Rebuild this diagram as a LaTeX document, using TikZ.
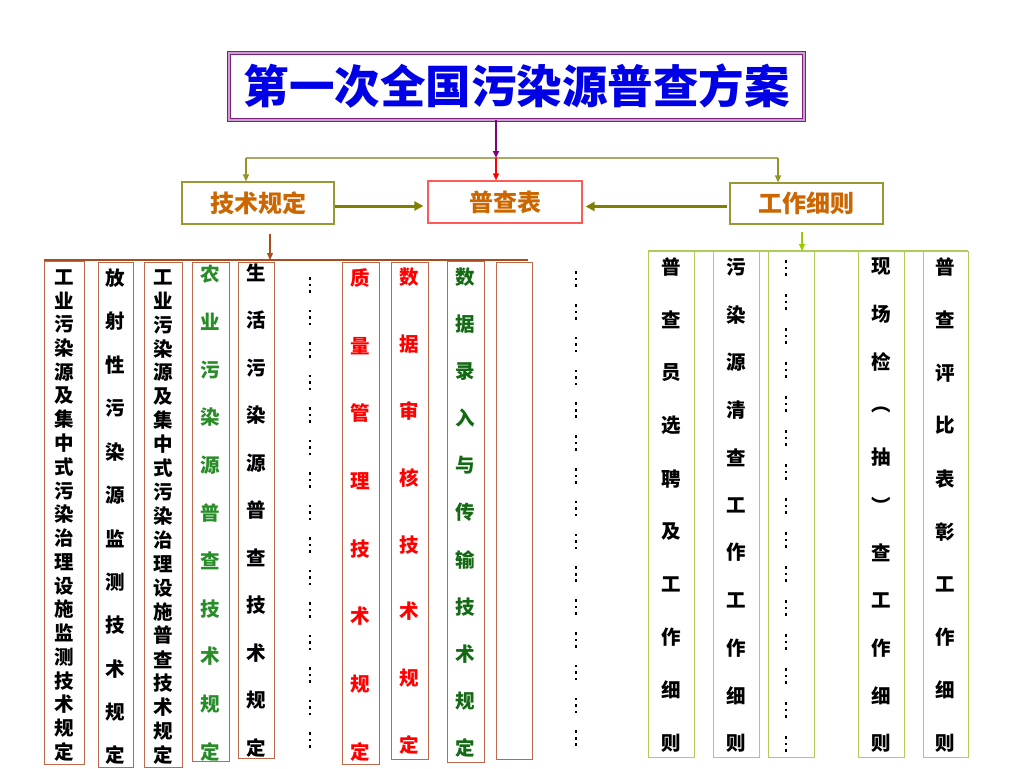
\documentclass[tikz,border=0pt]{standalone}
\usepackage{fontspec}
\newfontfamily\cjk{Noto Sans CJK SC}
\usetikzlibrary{arrows.meta}
\definecolor{tblue}{RGB}{0,0,230}
\definecolor{tborder}{RGB}{128,30,128}
\definecolor{tinner}{RGB}{200,160,210}
\definecolor{otext}{RGB}{204,102,0}
\definecolor{obox}{RGB}{153,153,51}
\definecolor{oarrow}{RGB}{128,128,0}
\definecolor{oline}{RGB}{170,170,100}
\definecolor{rbox}{RGB}{255,90,90}
\definecolor{parrow}{RGB}{128,0,128}
\definecolor{brarrow}{RGB}{170,75,30}
\definecolor{lbord}{RGB}{190,105,75}
\definecolor{gtext}{RGB}{40,140,40}
\definecolor{dgtext}{RGB}{20,105,20}
\definecolor{rtext}{RGB}{255,0,0}
\definecolor{rbord}{RGB}{175,205,90}
\definecolor{garrow}{RGB}{153,204,0}
\newcommand\vchars[6]{\foreach \ch [count=\k] in {#6}{\node[chr,text=#5] (#1-\k) at (#2,{#3+(\k-1)*#4}) {\ch};}}
\newcommand\dotcol[4]{\foreach \k in {1,...,#4}{\foreach \d in {-6.5,0,6.5}{\fill ({#1-1.3},{#2+(\k-1)*#3+\d-1.3}) rectangle ++(2.6,2.6);}}}
\tikzset{
  chr/.style={inner sep=0pt,font=\cjk\bfseries\fontsize{19.5}{19.5}\selectfont},
  titlebox/.style={draw=tborder,line width=0.8pt,double=tinner,double distance=1.6pt,inner sep=0pt,
    font=\cjk\bfseries\fontsize{45.5}{48}\selectfont,text=tblue},
  midbox/.style={draw=obox,line width=1.2pt,inner sep=0pt,font=\cjk\bfseries\fontsize{24}{26}\selectfont,text=otext},
  lbox/.style={draw=lbord,line width=1pt,inner sep=0pt},
  rbx/.style={draw=rbord,line width=1pt,inner sep=0pt},
  tip/.style={-{Triangle[length=7pt,width=6pt]}},
}
\begin{document}
\begin{tikzpicture}[x=1pt,y=-1pt]
\useasboundingbox (0,0) rectangle (1024,768);
\fill[white] (0,0) rectangle (1024,768);
% title
\node[titlebox,minimum width=575pt,minimum height=67pt] (title) at (516.5,86.5) {第一次全国污染源普查方案};
% second level
\node[midbox,minimum width=152pt,minimum height=42pt] (jsgd) at (258,203) {技术规定};
\node[midbox,draw=rbox,minimum width=154pt,minimum height=42pt] (pcb) at (505,202) {普查表};
\node[midbox,minimum width=153pt,minimum height=41pt] (gzxz) at (806.5,203.5) {工作细则};
% connectors top
\coordinate (hub) at (496,158);
\coordinate (hl) at (246,158);
\coordinate (hr) at (778,158);
\draw[oline,line width=1.5pt] (hl) -- (hr);
\draw[oarrow!85!white,line width=1.2pt,tip] (hl) -- (hl |- jsgd.north);
\draw[oarrow!85!white,line width=1.2pt,tip] (hr) -- (hr |- gzxz.north);
\draw[parrow,line width=2pt,tip] (title.south -| hub) -- (hub);
\draw[red,line width=1.2pt,tip] (hub) -- (hub |- pcb.north);
\draw[oarrow,line width=3pt,-{Triangle[length=9pt,width=9pt]},shorten >=4pt]
  ([yshift=-3pt]jsgd.east) -- ([yshift=-3pt]jsgd.east -| pcb.west);
\draw[oarrow,line width=3pt,-{Triangle[length=9pt,width=9pt]},shorten >=3pt,shorten <=2pt]
  ([yshift=-3pt]gzxz.west) -- ([yshift=-3pt]gzxz.west -| pcb.east);
% left group
\coordinate (lbl) at (44,260);
\coordinate (lbr) at (528,260);
\coordinate (lbus) at (270,260);
\node[lbox,minimum width=40pt,minimum height=503pt] (L1) at (64,512.5) {};
\node[lbox,minimum width=35pt,minimum height=505pt] (L2) at (115.5,514.5) {};
\node[lbox,minimum width=38pt,minimum height=505pt] (L3) at (163,514.5) {};
\node[lbox,minimum width=37pt,minimum height=499pt] (L4) at (210.5,511.5) {};
\node[lbox,minimum width=36pt,minimum height=496pt] (L5) at (256,510) {};
\node[lbox,minimum width=37pt,minimum height=502pt] (L6) at (360.5,513) {};
\node[lbox,minimum width=37pt,minimum height=497pt] (L7) at (409.5,510.5) {};
\node[lbox,minimum width=37pt,minimum height=501pt] (L8) at (465.5,511.5) {};
\node[lbox,minimum width=36pt,minimum height=497pt] (L9) at (514,510.5) {};
\draw[brarrow,line width=1.2pt] (lbl) -- (lbr);
\draw[brarrow,line width=1.2pt,tip,shorten <=9pt] ([xshift=12pt]jsgd.south) -- ([xshift=12pt]jsgd.south |- lbus);
\vchars{a}{64}{277}{23.75}{black}{工,业,污,染,源,及,集,中,式,污,染,治,理,设,施,监,测,技,术,规,定}
\vchars{b}{115.5}{278}{43.4}{black}{放,射,性,污,染,源,监,测,技,术,规,定}
\vchars{c}{163}{277}{23.9}{black}{工,业,污,染,源,及,集,中,式,污,染,治,理,设,施,普,查,技,术,规,定}
\vchars{d}{210.5}{274}{47.8}{gtext}{农,业,污,染,源,普,查,技,术,规,定}
\vchars{e}{256}{273}{47.5}{black}{生,活,污,染,源,普,查,技,术,规,定}
\dotcol{310}{285}{32.5}{15}
\vchars{f}{360.5}{278}{67.7}{rtext}{质,量,管,理,技,术,规,定}
\vchars{g}{409.5}{277}{66.9}{rtext}{数,据,审,核,技,术,规,定}
\vchars{h}{465.5}{277}{47.1}{dgtext}{数,据,录,入,与,传,输,技,术,规,定}
\dotcol{576}{279}{32.8}{15}
% right group
\coordinate (rbl) at (648,251);
\coordinate (rbr) at (968,251);
\coordinate (rbus) at (802,251);
\node[rbx,minimum width=46pt,minimum height=506pt] (R1) at (671,504) {};
\node[rbx,minimum width=46pt,minimum height=506pt] (R2) at (736,504) {};
\node[rbx,minimum width=46pt,minimum height=506pt] (R3) at (791,504) {};
\node[rbx,minimum width=46pt,minimum height=506pt] (R4) at (881,504) {};
\node[rbx,minimum width=45pt,minimum height=506pt] (R5) at (945.5,504) {};
\draw[rbord,line width=1.2pt] (rbl) -- (rbr);
\draw[garrow,line width=1.2pt,tip,shorten <=7pt] ([xshift=-4.5pt]gzxz.south) -- ([xshift=-4.5pt]gzxz.south |- rbus);
\vchars{p}{671}{267}{52.9}{black}{普,查,员,选,聘,及,工,作,细,则}
\vchars{q}{736}{267}{47.6}{black}{污,染,源,清,查,工,作,工,作,细,则}
\dotcol{786}{268}{34}{15}
\vchars{s}{881}{267}{47.6}{black}{现,场,检,︵,抽,︶,查,工,作,细,则}
\vchars{t}{945.5}{267}{52.9}{black}{普,查,评,比,表,彰,工,作,细,则}
\end{tikzpicture}
\end{document}
